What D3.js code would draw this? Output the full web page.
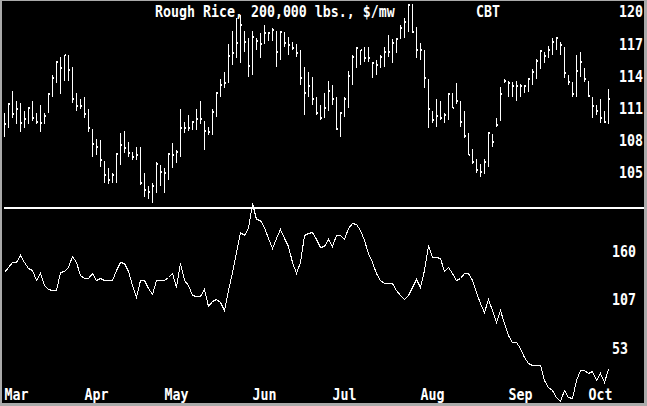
<!DOCTYPE html>
<html><head><meta charset="utf-8">
<script src="https://cdn.jsdelivr.net/npm/d3@7"></script>
<style>html,body{margin:0;padding:0;background:#aaa;overflow:hidden}</style>
</head><body>
<script>
const title = "Rough Rice, 200,000 lbs., $/mw";
const exchange = "CBT";
const months = ["Mar","Apr","May","Jun","Jul","Aug","Sep","Oct"];
const monthStart = [1,21,41,63,83,105,127,147];
const priceTicks = [105,108,111,114,117,120];
const oscTicks = [53,107,160];
const hi = [110.5,111.4,112.5,111.6,111.4,110.7,111.0,111.6,110.5,111.2,
110.5,112.3,114.0,115.3,115.7,115.9,115.9,114.8,112.3,111.8,
112.0,110.8,109.0,108.0,107.9,106.0,105.3,104.9,106.7,108.6,
108.8,107.8,106.8,107.3,107.3,104.9,103.6,103.9,105.9,105.6,
105.3,106.7,107.7,107.0,110.8,109.6,110.3,109.7,110.8,111.6,
109.7,109.2,110.8,112.4,113.6,114.3,116.9,118.1,119.3,119.6,
118.1,117.5,118.1,117.5,117.9,118.7,118.0,118.4,118.1,118.1,
118.0,117.6,117.1,116.9,116.4,114.8,114.3,113.8,112.0,111.2,
112.3,113.5,113.1,112.0,110.6,112.0,114.4,115.9,116.6,116.4,
116.6,116.6,115.2,115.4,115.9,116.6,117.8,117.4,117.5,118.7,
119.3,120.7,120.7,118.5,117.0,116.4,113.6,110.7,111.8,111.6,
110.5,112.3,112.3,113.3,111.6,110.7,108.6,107.1,106.2,105.7,
106.2,108.7,108.5,110.0,112.9,113.6,113.5,113.4,113.5,113.2,
113.1,113.7,114.6,115.5,116.4,116.2,116.7,117.5,117.6,117.1,
116.6,114.0,113.4,115.9,116.2,114.7,113.5,112.0,111.2,111.8,
110.7,112.7];
const lo = [108.2,109.1,110.0,109.4,108.7,109.1,109.4,109.7,109.4,108.7,
109.4,110.5,112.0,113.3,112.2,113.5,113.5,111.4,110.7,110.8,
110.0,108.7,106.4,106.5,105.4,103.9,103.8,103.9,103.9,105.6,
106.7,106.4,106.1,106.1,103.7,102.6,102.4,102.1,103.0,103.6,
103.0,104.2,105.3,105.8,106.4,108.6,108.8,108.9,108.9,109.4,
107.0,108.4,108.4,110.1,112.0,112.8,113.3,115.0,115.6,115.1,
116.2,113.8,114.0,116.4,115.6,116.9,117.2,117.2,114.8,115.4,
116.6,115.9,116.4,115.7,113.1,110.3,112.0,111.2,110.3,109.8,
110.0,110.7,111.2,108.9,108.2,110.1,110.9,113.1,114.7,115.0,
115.2,115.2,113.7,114.0,114.7,114.8,115.7,115.1,116.1,117.4,
117.5,118.0,117.9,115.6,115.4,112.8,109.1,109.5,109.2,109.8,
109.5,109.8,110.9,111.3,109.2,108.1,106.5,105.7,104.9,104.5,
104.8,105.4,107.3,109.2,109.7,113.3,112.0,112.0,111.6,112.0,
112.3,112.4,113.1,113.6,114.6,115.1,115.6,115.9,116.4,115.9,
113.7,113.1,112.0,112.0,113.8,113.4,112.0,110.0,110.3,109.5,
109.5,109.4];
const cl = [109.4,111.3,110.4,110.8,109.5,109.9,110.9,110.0,109.6,109.5,
110.2,112.2,113.7,115.2,114.7,115.9,114.5,111.8,111.1,111.1,
110.4,109.1,107.6,107.3,106.1,104.7,104.2,104.7,106.6,107.5,
107.2,106.7,106.4,106.5,103.9,103.3,103.1,103.6,105.7,105.0,
104.9,106.6,106.5,106.8,109.1,109.1,109.1,109.6,109.9,109.9,
108.8,108.7,110.6,112.3,113.1,113.3,115.8,116.1,117.0,118.7,
117.1,114.9,117.6,117.2,116.9,117.9,117.9,118.2,116.2,118.0,
117.0,116.8,116.5,116.1,113.7,112.3,113.0,111.8,110.5,110.0,
110.9,112.5,111.8,109.0,110.5,111.8,113.9,115.7,116.5,116.4,
115.6,115.6,115.1,115.0,115.7,116.2,116.2,117.0,117.4,118.4,
119.0,120.6,118.0,116.4,116.4,113.7,110.8,109.8,110.2,110.0,
110.3,112.2,110.9,111.6,109.6,108.3,106.5,105.9,105.1,105.0,
105.9,108.6,107.8,109.3,112.2,113.5,113.3,113.0,113.0,113.0,
113.0,113.6,114.3,115.3,116.3,115.8,116.4,117.1,117.5,116.8,
114.2,113.4,112.2,114.4,115.2,113.6,112.1,111.1,110.7,110.0,
109.6,111.8];
const mom = [143.7,149.2,154.8,154.8,162.2,154.8,148.1,145.5,134.4,142.6,
128.9,124.0,123.3,123.3,143.7,144.4,149.2,161.1,154.8,140.0,
137.0,137.0,141.8,134.4,137.0,134.4,134.4,134.4,145.5,154.8,
152.9,144.4,128.9,115.9,134.4,134.4,125.1,118.5,134.4,134.4,
134.4,138.1,141.8,126.3,152.9,134.4,128.9,117.7,116.6,116.6,
124.0,105.5,111.1,112.9,110.3,101.1,123.3,143.7,165.9,188.1,
184.4,191.8,219.6,201.8,201.1,193.7,180.7,170.3,180.7,190.7,
180.7,172.2,154.8,141.8,154.8,184.4,186.3,188.1,179.6,171.4,
172.2,179.6,172.2,184.4,184.4,179.6,191.8,197.4,196.3,190.0,
178.9,164.1,154.8,141.8,134.4,130.7,130.7,130.7,123.3,117.7,
112.9,117.7,126.3,135.1,127.0,145.5,173.3,160.3,160.3,158.5,
144.4,149.2,141.8,134.4,136.3,141.8,141.8,134.4,121.4,108.5,
99.2,112.9,101.1,88.1,101.1,86.3,73.3,65.9,65.9,58.5,
49.2,41.8,40.0,40.0,40.0,23.3,15.9,12.2,4.8,0,
12.2,4.8,2.9,23.3,34.4,34.4,30.7,33.7,23.3,30.7,
21.4,35.2];

const W = 647, H = 406;
const FONT = "'DejaVu Sans Mono', 'Liberation Mono', monospace";
const FS = 13.29;      // gives an 8px monospace advance
const STRETCH = "scale(1,1.24)";
const svg = d3.select("body").append("svg").attr("width", W).attr("height", H)
  .attr("shape-rendering", "crispEdges");
svg.append("rect").attr("width", W).attr("height", H).attr("fill", "#aaaaaa");
svg.append("rect").attr("x", 2).attr("y", 1).attr("width", 642).attr("height", 402).attr("fill", "#000");

const idx = d3.range(1, hi.length + 1);
const x = d3.scaleLinear().domain([1, 152]).range([4, 608]);
const yTop = d3.scaleLinear().domain([105, 120]).range([171.5, 11]);
const yBot = d3.scaleLinear().domain([0, 213.33]).range([401, 209]);

function pixText(str, px, py) {
  return svg.append("g").attr("transform", `translate(${px},${py})`)
    .append("text").attr("transform", STRETCH)
    .attr("font-family", FONT).attr("font-weight", "bold").attr("font-size", FS)
    .attr("fill", "#fff").text(str);
}

// title
pixText(title, 155, 17);
pixText(exchange, 476, 17);

// separator
svg.append("rect").attr("x", 4).attr("y", 207).attr("width", 640).attr("height", 2).attr("fill", "#fff");

// bars
const gb = svg.append("g");
gb.selectAll("rect.bar").data(idx).join("rect").attr("class", "bar")
  .attr("x", i => Math.round(x(i))).attr("width", 1)
  .attr("y", i => Math.round(yTop(hi[i-1])))
  .attr("height", i => Math.max(1, Math.round(yTop(lo[i-1])) - Math.round(yTop(hi[i-1]))))
  .attr("fill", "#fff");
gb.selectAll("rect.cl").data(idx).join("rect").attr("class", "cl")
  .attr("x", i => Math.round(x(i)) + 1).attr("width", 1)
  .attr("y", i => Math.round(yTop(cl[i-1])) - 1).attr("height", 2)
  .attr("fill", "#fff");

// oscillator line
const line = d3.line().x(i => Math.round(x(i)) + 0.5).y(i => Math.round(yBot(mom[i-1])) + 0.5);
svg.append("path").datum(idx).attr("d", line).attr("fill", "none")
  .attr("stroke", "#fff").attr("stroke-width", 1);

// axes
function styleAxis(g, dy) {
  g.select(".domain").remove();
  g.selectAll("line").remove();
  g.selectAll("text").attr("font-family", FONT).attr("font-weight", "bold")
    .attr("font-size", FS).attr("fill", "#fff").attr("dy", dy)
    .attr("x", 0).attr("y", 0).attr("text-anchor", "start")
    .attr("transform", STRETCH);
}
const aTop = svg.append("g").attr("transform", "translate(619,0)")
  .call(d3.axisRight(yTop).tickValues(priceTicks).tickSize(0).tickPadding(0).tickFormat(d3.format("d")));
styleAxis(aTop, "0.36em");
const aBot = svg.append("g").attr("transform", "translate(612,0)")
  .call(d3.axisRight(yBot).tickValues(oscTicks).tickSize(0).tickPadding(0).tickFormat(d3.format("d")));
styleAxis(aBot, "0");
const aX = svg.append("g").attr("transform", "translate(0,400)")
  .call(d3.axisBottom(x).tickValues(monthStart).tickSize(0).tickPadding(0)
    .tickFormat((d, k) => months[k]));
styleAxis(aX, "0");
</script>
</body></html>
